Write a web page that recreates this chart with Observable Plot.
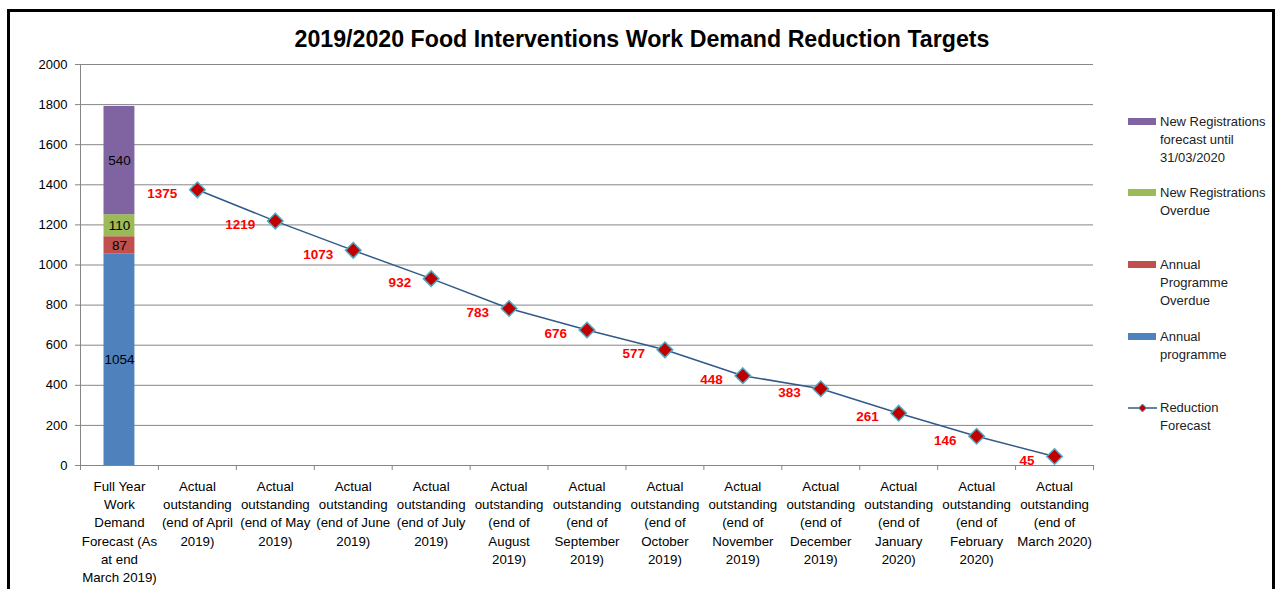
<!DOCTYPE html>
<html>
<head>
<meta charset="utf-8">
<script src="https://cdn.jsdelivr.net/npm/d3@7"></script>
<script src="https://cdn.jsdelivr.net/npm/@observablehq/plot@0.6"></script>
<style>
  html, body { margin: 0; padding: 0; background: #fff; }
  #wrap { position: relative; width: 1284px; height: 589px; overflow: hidden; font-family: "Liberation Sans", Arial, sans-serif; }
  #frame { position: absolute; left: 7px; top: 9px; width: 1268px; height: 700px; border: 3px solid #000; box-sizing: border-box; }
  #title { position: absolute; left: 0; width: 1284px; top: 26px; text-align: center; font-weight: bold; font-size: 23.2px; color: #000; }
  #chart { position: absolute; left: 0; top: 0; }
  .leg { position: absolute; left: 1128px; font-size: 13px; line-height: 18px; color: #222; }
  .leg .sw { position: absolute; left: 0; width: 28px; height: 7px; }
  .leg .tx { position: absolute; left: 32px; white-space: nowrap; }
</style>
</head>
<body>
<div id="wrap">
  <div id="frame"></div>
  <div id="chart"></div>
  <div id="title">2019/2020 Food Interventions Work Demand Reduction Targets</div>
  <div id="legend"></div>
</div>
<script>
const categories = [
  "Full Year\nWork\nDemand\nForecast (As\nat end\nMarch 2019)",
  "Actual\noutstanding\n(end of April\n2019)",
  "Actual\noutstanding\n(end of May\n2019)",
  "Actual\noutstanding\n(end of June\n2019)",
  "Actual\noutstanding\n(end of July\n2019)",
  "Actual\noutstanding\n(end of\nAugust\n2019)",
  "Actual\noutstanding\n(end of\nSeptember\n2019)",
  "Actual\noutstanding\n(end of\nOctober\n2019)",
  "Actual\noutstanding\n(end of\nNovember\n2019)",
  "Actual\noutstanding\n(end of\nDecember\n2019)",
  "Actual\noutstanding\n(end of\nJanuary\n2020)",
  "Actual\noutstanding\n(end of\nFebruary\n2020)",
  "Actual\noutstanding\n(end of\nMarch 2020)"
];
const stackSeries = [
  "Annual programme",
  "Annual Programme Overdue",
  "New Registrations Overdue",
  "New Registrations forecast until 31/03/2020"
];
const stackValues = [1054, 87, 110, 540];
const stackColors = ["#4f81bd", "#c0504d", "#9bbb59", "#8064a2"];
const forecastName = "Reduction Forecast";
const forecastValues = [1375, 1219, 1073, 932, 783, 676, 577, 448, 383, 261, 146, 45];
const yTicks = [0, 200, 400, 600, 800, 1000, 1200, 1400, 1600, 1800, 2000];

const stackData = stackSeries.map((s, i) => ({cat: categories[0], series: s, value: stackValues[i]}));
const lineData = forecastValues.map((v, i) => ({cat: categories[i + 1], value: v}));

const W = 1284, H = 589, mL = 80, mR = 191, mT = 64, mB = 124;
const bw = (W - mL - mR) / categories.length;
const grid = "#868686";

const chart = Plot.plot({
  width: W, height: H,
  marginLeft: mL, marginRight: mR, marginTop: mT, marginBottom: mB,
  style: {fontFamily: "Liberation Sans, Arial, sans-serif", fontSize: "13px", color: "#000", background: "transparent"},
  x: {domain: categories, padding: 0, round: false, label: null},
  y: {domain: [0, 2000], label: null},
  color: {domain: stackSeries, range: stackColors},
  marks: [
    Plot.gridY(yTicks, {stroke: grid, strokeOpacity: 1, strokeWidth: 1}),
    Plot.frame({anchor: "left", stroke: grid}),
    Plot.ruleX(categories, {x: d => d, dx: -bw / 2, y1: 0, y2: -25, stroke: grid}),
    Plot.ruleX([categories[categories.length - 1]], {x: d => d, dx: bw / 2, y1: 0, y2: -25, stroke: grid}),
    Plot.axisY({ticks: yTicks, tickFormat: d => String(d), tickSize: 5, tickPadding: 8, stroke: grid, fill: "#000", label: null, fontSize: 13}),
    Plot.axisX({tickSize: 0, tickPadding: 12, lineHeight: 1.38, fill: "#000", label: null, fontSize: 13.3}),
    Plot.barY(stackData, {x: "cat", y: "value", fill: "series", insetLeft: 23.5, insetRight: 23.5}),
    Plot.text(stackData, Plot.stackY({x: "cat", y: "value", z: "series", text: d => String(d.value), fill: "#000", fontSize: 13.5})),
    Plot.line(lineData, {x: "cat", y: "value", stroke: "#31598a", strokeWidth: 1.5}),
    Plot.dot(lineData, {x: "cat", y: "value", symbol: "diamond2", r: 7, fill: "#c00000", stroke: "#4bacc6", strokeWidth: 1.5}),
    Plot.text(lineData, {x: "cat", y: "value", text: d => String(d.value), textAnchor: "end", dx: -20, dy: 4, fill: "#ff0000", fontWeight: "bold", fontSize: 13.5})
  ]
});
document.getElementById("chart").appendChild(chart);

// Legend
const legendItems = [
  {name: stackSeries[3], color: stackColors[3], lines: ["New Registrations", "forecast until", "31/03/2020"], top: 113},
  {name: stackSeries[2], color: stackColors[2], lines: ["New Registrations", "Overdue"], top: 184},
  {name: stackSeries[1], color: stackColors[1], lines: ["Annual", "Programme", "Overdue"], top: 256},
  {name: stackSeries[0], color: stackColors[0], lines: ["Annual", "programme"], top: 328},
  {name: forecastName, line: true, lines: ["Reduction", "Forecast"], top: 399}
];
const leg = document.getElementById("legend");
legendItems.forEach(it => {
  const d = document.createElement("div");
  d.className = "leg";
  d.style.top = it.top + "px";
  if (it.line) {
    d.innerHTML = `<svg style="position:absolute;left:0;top:3px" width="30" height="12"><line x1="0" y1="6" x2="29" y2="6" stroke="#31598a" stroke-width="1.5"/><path d="M14.5,2 L18.5,6 L14.5,10 L10.5,6 Z" fill="#c00000" stroke="#4bacc6" stroke-width="1"/></svg>`;
  } else {
    d.innerHTML = `<div class="sw" style="top:5px;background:${it.color}"></div>`;
  }
  const t = document.createElement("div");
  t.className = "tx";
  t.innerHTML = it.lines.join("<br>");
  d.appendChild(t);
  leg.appendChild(d);
});
</script>
</body>
</html>
